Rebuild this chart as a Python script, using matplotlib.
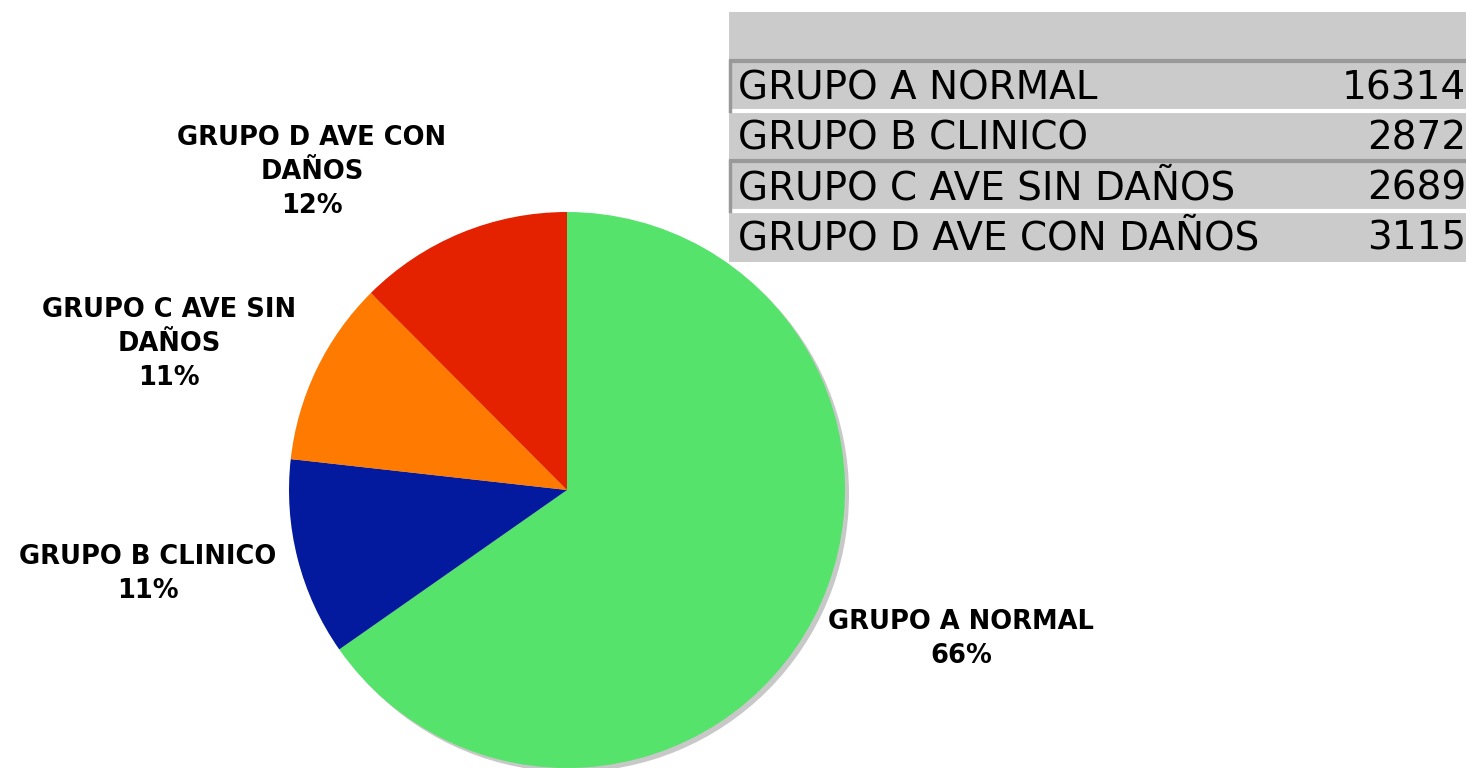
import matplotlib
matplotlib.use("Agg")
import matplotlib.pyplot as plt
from matplotlib.patches import Rectangle, Circle

categories = ["GRUPO A NORMAL", "GRUPO B CLINICO", "GRUPO C AVE SIN DAÑOS", "GRUPO D AVE CON DAÑOS"]
values = [16314, 2872, 2689, 3115]
pct_labels = ["66%", "11%", "11%", "12%"]
pie_labels = ["GRUPO A NORMAL", "GRUPO B CLINICO", "GRUPO C AVE SIN\nDAÑOS", "GRUPO D AVE CON\nDAÑOS"]
colors = ["#56e36b", "#041a9e", "#ff7a00", "#e52200"]

W, H = 1466, 768
fig = plt.figure(figsize=(W / 100, H / 100), dpi=100)
ax = fig.add_axes([0, 0, 1, 1])

def Y(py):
    return H - py

cx, cy, r = 567, Y(490), 278
ax.add_patch(Circle((cx + 4, cy - 4), r, facecolor="#c8c8c8", edgecolor="none", zorder=1))
ax.pie(values, colors=colors, startangle=90, counterclock=False, center=(cx, cy),
       radius=r, frame=True, wedgeprops=dict(edgecolor="none", zorder=2))
ax.set_xlim(0, W)
ax.set_ylim(0, H)
ax.set_aspect("equal")
ax.axis("off")

label_pos = [(961, 639), (148, 574), (169, 344), (312, 172)]
lfont = dict(family="DejaVu Sans", fontweight="bold", fontsize=18.5, color="black",
             ha="center", va="center", linespacing=1.38)
for lab, pct, (px, py) in zip(pie_labels, pct_labels, label_pos):
    ax.text(px, Y(py), f"{lab}\n{pct}", **lfont)

# table
tx0, tx1 = 729, W
ax.add_patch(Rectangle((tx0, Y(262)), tx1 - tx0, 250, facecolor="#cbcbcb", edgecolor="none", zorder=3))
row_tops = [61, 111, 161, 211]
row_h = 50
for yy in [111, 211]:
    ax.plot([tx0, tx1], [Y(yy), Y(yy)], color="white", lw=3, zorder=4, solid_capstyle="butt")
for yy in [61, 161]:
    ax.plot([tx0, tx1], [Y(yy), Y(yy)], color="#999999", lw=3, zorder=4, solid_capstyle="butt")
    ax.plot([tx0 + 1, tx0 + 1], [Y(yy), Y(yy + row_h)], color="#999999", lw=2.5, zorder=4)

tfont = dict(family="DejaVu Sans", fontsize=28, color="black", va="center")
for cat, val, top in zip(categories, values, row_tops):
    ax.text(738, Y(top + 27), cat, ha="left", zorder=5, **tfont)
    ax.text(1466, Y(top + 27), str(val), ha="right", zorder=5, **tfont)

fig.savefig("out.png", dpi=100)
